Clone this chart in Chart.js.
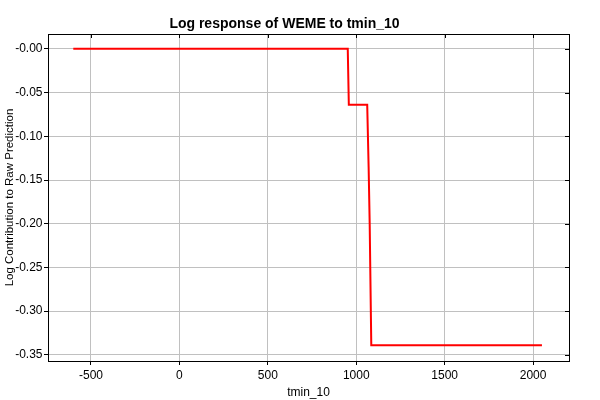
<!DOCTYPE html>
<html><head><meta charset="utf-8">
<script src="https://cdn.jsdelivr.net/npm/chart.js@4.4.0/dist/chart.umd.min.js"></script>
<style>html,body{margin:0;padding:0;background:#fff}#wrap{width:600px;height:400px}</style>
</head><body><div id="wrap"><canvas id="c" width="600" height="400"></canvas></div>
<script>
const xValues = [-600, 952, 958, 1062, 1070, 1076, 1085, 2050];
const yValues = [0.0, 0.0, -0.064, -0.064, -0.135, -0.20, -0.339, -0.339];
const xTicks = [-500, 0, 500, 1000, 1500, 2000];
const yTicks = [-0.35, -0.30, -0.25, -0.20, -0.15, -0.10, -0.05, 0.0];
const yTickLabels = ['-0.35', '-0.30', '-0.25', '-0.20', '-0.15', '-0.10', '-0.05', '-0.00'];

const frame = {
  id: 'frame',
  afterDraw(chart) {
    const {ctx, chartArea: a, scales} = chart;
    ctx.save();
    ctx.strokeStyle = '#000';
    ctx.lineWidth = 1;
    ctx.strokeRect(a.left + 0.5, a.top + 0.5, a.right - a.left, a.bottom - a.top);
    ctx.beginPath();
    xTicks.forEach(v => { const p = Math.round(scales.x.getPixelForValue(v)) + 0.5; ctx.moveTo(p, a.top); ctx.lineTo(p, a.top + 4); });
    yTicks.forEach(v => { const p = Math.round(scales.y.getPixelForValue(v)) + 0.5; ctx.moveTo(a.right, p); ctx.lineTo(a.right - 4, p); });
    ctx.stroke();
    ctx.restore();
  }
};

new Chart(document.getElementById('c'), {
  type: 'line',
  data: { datasets: [{ data: xValues.map((x, i) => ({x, y: yValues[i]})), borderColor: '#ff0000', borderWidth: 2, pointRadius: 0, tension: 0, fill: false }] },
  options: {
    responsive: false, animation: false, devicePixelRatio: 1,
    layout: { padding: { left: 0, right: 31, top: 0, bottom: 0 } },
    plugins: {
      legend: { display: false }, tooltip: { enabled: false },
      title: { display: true, text: 'Log response of WEME to tmin_10', color: '#000',
        font: { family: 'Liberation Sans, Arial, sans-serif', size: 14, weight: 'bold' }, padding: { top: 16, bottom: 1.2 } }
    },
    scales: {
      x: { type: 'linear', min: -743, max: 2203,
        afterBuildTicks: ax => { ax.ticks = xTicks.map(v => ({value: v})); },
        afterFit: ax => { ax.height = 39; },
        ticks: { color: '#000', font: { family: 'Liberation Sans, Arial, sans-serif', size: 12 }, padding: 3, maxRotation: 0, callback: v => String(v) },
        grid: { color: '#c0c0c0', tickColor: '#000', tickLength: 4, lineWidth: 1 },
        border: { color: '#000' },
        title: { display: true, text: 'tmin_10', color: '#000', font: { family: 'Liberation Sans, Arial, sans-serif', size: 12 }, padding: { top: 0, bottom: 0 } }
      },
      y: { type: 'linear', min: -0.357, max: 0.017,
        afterBuildTicks: ax => { ax.ticks = yTicks.map(v => ({value: v})); },
        afterFit: ax => { ax.width = 48; },
        ticks: { color: '#000', font: { family: 'Liberation Sans, Arial, sans-serif', size: 12 }, padding: 1.5,
          callback: v => { const i = yTicks.findIndex(t => Math.abs(t - v) < 1e-9); return i >= 0 ? yTickLabels[i] : ''; } },
        grid: { color: '#c0c0c0', tickColor: '#000', tickLength: 4, lineWidth: 1 },
        border: { color: '#000' },
        title: { display: true, text: 'Log Contribution to Raw Prediction', color: '#000', font: { family: 'Liberation Sans, Arial, sans-serif', size: 11.5 }, padding: { top: 3, bottom: 0 } }
      }
    }
  },
  plugins: [frame]
});
</script></body></html>
